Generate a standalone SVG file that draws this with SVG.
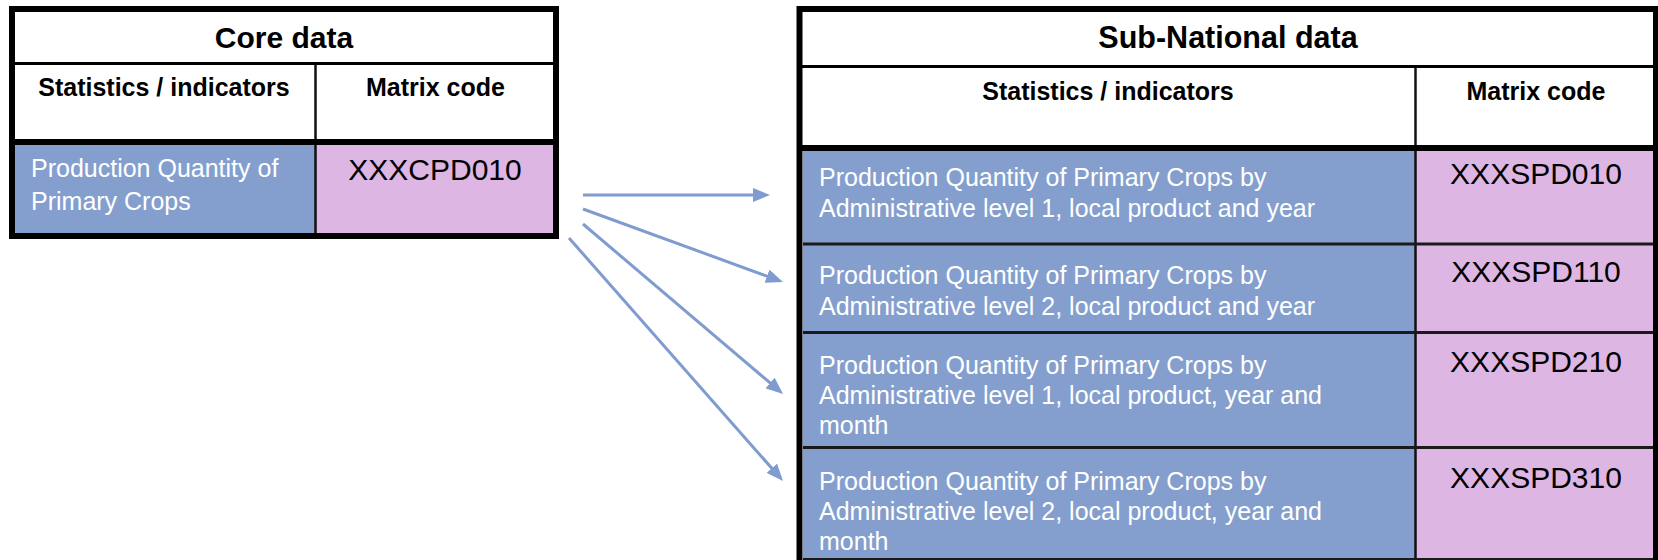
<svg xmlns="http://www.w3.org/2000/svg" width="1658" height="560" viewBox="0 0 1658 560">
<style>
.frame{fill:#fff;stroke:#000;stroke-width:6}
.hline{stroke:#000;stroke-width:3}
.thick{stroke:#000;stroke-width:6}
.vline{stroke:#111;stroke-width:2.5}
.rowline{stroke:#1a1a1a;stroke-width:3}
.blue{fill:#849FCE}
.pink{fill:#DEB6E4}
.title{font-family:"Liberation Sans",Arial,sans-serif;font-weight:bold;fill:#000;text-anchor:middle}
.head{font-family:"Liberation Sans",Arial,sans-serif;font-weight:bold;font-size:25px;fill:#000;text-anchor:middle}
.body{font-family:"Liberation Sans",Arial,sans-serif;font-size:25px;fill:#fff}
.code{font-family:"Liberation Sans",Arial,sans-serif;font-size:30px;fill:#000;text-anchor:middle}
.conn{stroke:#7F9BCF;stroke-width:3;fill:none}
</style>
<defs>
<marker id="ah" markerUnits="userSpaceOnUse" markerWidth="17" markerHeight="14" refX="5" refY="7" orient="auto">
<path d="M0,0 L17,7 L0,14 z" fill="#7F9BCF"/>
</marker>
</defs>

<g id="core-table">
<rect class="frame" x="12" y="9" width="544" height="227"/>
<rect class="blue" x="15" y="145" width="300" height="88"/>
<rect class="pink" x="316" y="145" width="237" height="88"/>
<line class="hline" x1="12" y1="63.5" x2="556" y2="63.5"/>
<line class="vline" x1="315.5" y1="65" x2="315.5" y2="233"/>
<line class="thick" x1="12" y1="142" x2="556" y2="142"/>
<text class="title" x="284" y="48" font-size="30">Core data</text>
<text class="head" x="164" y="96">Statistics / indicators</text>
<text class="head" x="435.5" y="96">Matrix code</text>
<text class="body" x="31" y="177">Production Quantity of</text>
<text class="body" x="31" y="210">Primary Crops</text>
<text class="code" x="435" y="180">XXXCPD010</text>
</g>

<g id="subnational-table">
<rect class="frame" x="799.5" y="9" width="856.5" height="556"/>
<rect class="blue" x="803" y="151" width="612" height="409"/>
<rect class="pink" x="1416" y="151" width="237" height="409"/>
<line class="hline" x1="799.5" y1="66.5" x2="1656" y2="66.5"/>
<line class="vline" x1="1415.5" y1="68" x2="1415.5" y2="560"/>
<line class="thick" x1="799.5" y1="148" x2="1656" y2="148"/>
<line class="rowline" x1="803" y1="244" x2="1653" y2="244"/>
<line class="rowline" x1="803" y1="332.5" x2="1653" y2="332.5"/>
<line class="rowline" x1="803" y1="447.5" x2="1653" y2="447.5"/>
<line class="rowline" x1="803" y1="559.5" x2="1653" y2="559.5"/>
<text class="title" x="1228" y="48" font-size="30.5">Sub-National data</text>
<text class="head" x="1108" y="100">Statistics / indicators</text>
<text class="head" x="1536" y="100">Matrix code</text>
</g>

<g id="row-spd010">
<text class="body" x="819" y="186">Production Quantity of Primary Crops by</text>
<text class="body" x="819" y="217">Administrative level 1, local product and year</text>
<text class="code" x="1536" y="184">XXXSPD010</text>
</g>
<g id="row-spd110">
<text class="body" x="819" y="284">Production Quantity of Primary Crops by</text>
<text class="body" x="819" y="315">Administrative level 2, local product and year</text>
<text class="code" x="1536" y="282">XXXSPD110</text>
</g>
<g id="row-spd210">
<text class="body" x="819" y="374">Production Quantity of Primary Crops by</text>
<text class="body" x="819" y="404">Administrative level 1, local product, year and</text>
<text class="body" x="819" y="434">month</text>
<text class="code" x="1536" y="372">XXXSPD210</text>
</g>
<g id="row-spd310">
<text class="body" x="819" y="490">Production Quantity of Primary Crops by</text>
<text class="body" x="819" y="520">Administrative level 2, local product, year and</text>
<text class="body" x="819" y="550">month</text>
<text class="code" x="1536" y="488">XXXSPD310</text>
</g>

<g id="connectors">
<line class="conn" x1="583" y1="195" x2="758" y2="195" marker-end="url(#ah)"/>
<line class="conn" x1="583" y1="209" x2="771.7" y2="277.9" marker-end="url(#ah)"/>
<line class="conn" x1="583" y1="224" x2="773.9" y2="386.2" marker-end="url(#ah)"/>
<line class="conn" x1="569" y1="238" x2="775.1" y2="472" marker-end="url(#ah)"/>
</g>
</svg>
